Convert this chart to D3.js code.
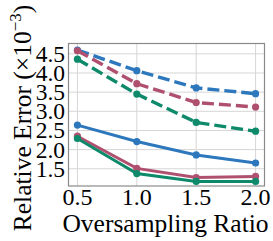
<!DOCTYPE html>
<html>
<head>
<meta charset="utf-8">
<script src="https://cdn.jsdelivr.net/npm/d3@7"></script>
<style>
  body { margin: 0; background: #fff; }
  svg { display: block; }
</style>
</head>
<body>
<div id="chart"></div>
<script>
var ratios = [0.5, 1.0, 1.5, 2.0];
var xTicks = [0.5, 1.0, 1.5, 2.0];
var yTicks = [1.5, 2.0, 2.5, 3.0, 3.5, 4.0, 4.5];

// dashed series
var blueDashed = [4.60, 4.06, 3.61, 3.46];
var redDashed = [4.58, 3.72, 3.23, 3.11];
var greenDashed = [4.36, 3.45, 2.71, 2.48];
// solid series
var blueSolid = [2.64, 2.21, 1.86, 1.65];
var redSolid = [2.35, 1.51, 1.27, 1.30];
var greenSolid = [2.29, 1.375, 1.17, 1.17];

var series = [
  { vals: blueDashed, color: "#2d78bd", dash: true },
  { vals: blueSolid, color: "#2d78bd", dash: false },
  { vals: redDashed, color: "#b0506f", dash: true },
  { vals: redSolid, color: "#b0506f", dash: false },
  { vals: greenDashed, color: "#0e8a6b", dash: true },
  { vals: greenSolid, color: "#0e8a6b", dash: false }
];

var W = 273, H = 241;
var pLeft = 68.5, pRight = 264.5, pTop = 43.5, pBottom = 186;
var serif = "'Liberation Serif', serif";

var svg = d3.select("#chart").append("svg")
  .attr("width", W).attr("height", H)
  .attr("font-family", serif);

var x = d3.scaleLinear().domain([0.425, 2.075]).range([pLeft, pRight]);
var y = d3.scaleLinear().domain([1.05, 4.77]).range([pBottom, pTop]);

// grid
svg.append("g").selectAll("line")
  .data(xTicks).enter().append("line")
  .attr("x1", function (d) { return x(d) }).attr("x2", function (d) { return x(d) })
  .attr("y1", pTop).attr("y2", pBottom)
  .attr("stroke", "#d6d6d6").attr("stroke-width", 1);
svg.append("g").selectAll("line")
  .data(yTicks).enter().append("line")
  .attr("x1", pLeft).attr("x2", pRight)
  .attr("y1", function (d) { return y(d) }).attr("y2", function (d) { return y(d) })
  .attr("stroke", "#d6d6d6").attr("stroke-width", 1);

// lines
var line = d3.line()
  .x(function (d, i) { return x(ratios[i]) })
  .y(function (d) { return y(d) });

series.forEach(function (s) {
  svg.append("path")
    .datum(s.vals)
    .attr("fill", "none")
    .attr("stroke", s.color)
    .attr("stroke-width", s.dash ? 3.4 : 3)
    .attr("stroke-dasharray", s.dash ? "12,5" : null)
    .attr("d", line);
  svg.append("g").selectAll("circle")
    .data(s.vals).enter().append("circle")
    .attr("cx", function (d, i) { return x(ratios[i]) })
    .attr("cy", function (d) { return y(d) })
    .attr("r", 3.6)
    .attr("fill", s.color);
});

// frame
svg.append("rect")
  .attr("x", pLeft).attr("y", pTop)
  .attr("width", pRight - pLeft).attr("height", pBottom - pTop)
  .attr("fill", "none").attr("stroke", "#8a8a8a").attr("stroke-width", 1.2);

// tick labels
svg.append("g").selectAll("text")
  .data(xTicks).enter().append("text")
  .attr("font-family", serif)
  .attr("x", function (d) { return x(d) })
  .attr("y", 205)
  .attr("text-anchor", "middle")
  .attr("font-size", 24)
  .text(function (d) { return d3.format(".1f")(d) });

svg.append("g").selectAll("text")
  .data(yTicks).enter().append("text")
  .attr("font-family", serif)
  .attr("x", 65)
  .attr("y", function (d) { return y(d) })
  .attr("dy", "0.34em")
  .attr("text-anchor", "end")
  .attr("font-size", 23.5)
  .text(function (d) { return d3.format(".1f")(d) });

// axis titles
svg.append("text")
  .attr("font-family", serif)
  .attr("x", (pLeft + pRight) / 2 - 1)
  .attr("y", 232)
  .attr("text-anchor", "middle")
  .attr("font-size", 25.5)
  .text("Oversampling Ratio");

var yl = svg.append("text")
  .attr("font-family", serif)
  .attr("transform", "translate(31," + 118 + ") rotate(-90)")
  .attr("text-anchor", "middle")
  .attr("font-size", 25.5);
yl.append("tspan").text("Relative Error (×10");
yl.append("tspan").attr("font-size", 17).attr("dy", -10).text("−3");
yl.append("tspan").attr("dy", 10).text(")");
</script>
</body>
</html>
